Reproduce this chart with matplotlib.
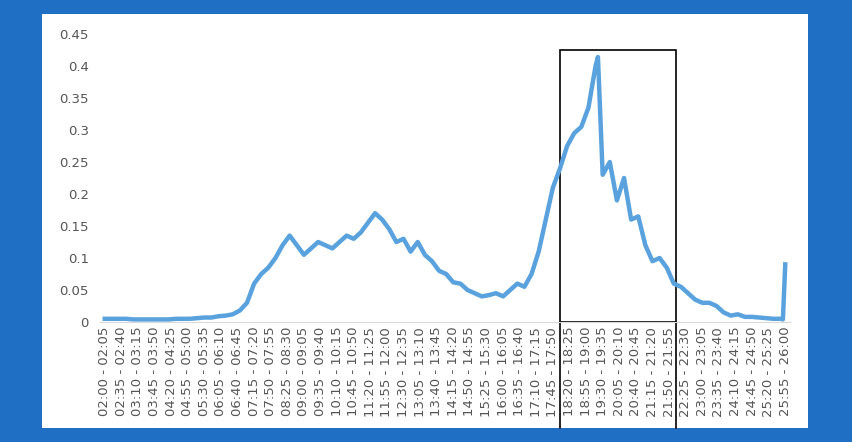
import matplotlib
matplotlib.use("Agg")
import matplotlib.pyplot as plt
from matplotlib.patches import Rectangle

# values sampled every 15 minutes (index step 3 of 5-minute slots), last slot 25:55
values = [0.005, 0.005, 0.005, 0.005, 0.004, 0.004, 0.004, 0.004,   # 02:00-03:45
          0.004, 0.004, 0.005, 0.005, 0.005, 0.006, 0.007, 0.007,   # 04:00-05:45
          0.009, 0.010, 0.012, 0.018, 0.030, 0.060, 0.075, 0.085,   # 06:00-07:45
          0.100, 0.120, 0.135, 0.120, 0.105, 0.115, 0.125, 0.120,   # 08:00-09:45
          0.115, 0.125, 0.135, 0.130, 0.140, 0.155, 0.170, 0.160,   # 10:00-11:45
          0.145, 0.125, 0.130, 0.110, 0.125, 0.105, 0.095, 0.080,   # 12:00-13:45
          0.075, 0.062, 0.060, 0.050, 0.045, 0.040, 0.042, 0.045,   # 14:00-15:45
          0.040, 0.050, 0.060, 0.055, 0.075, 0.110, 0.160, 0.210,   # 16:00-17:45
          0.240, 0.275, 0.295, 0.305, 0.335, 0.400, 0.230, 0.250,   # 18:00-19:45
          0.190, 0.225, 0.160, 0.165, 0.120, 0.095, 0.100, 0.085,   # 20:00-21:45
          0.060, 0.055, 0.045, 0.035, 0.030, 0.030, 0.025, 0.015,   # 22:00-23:45
          0.010, 0.012, 0.008, 0.008, 0.007, 0.006, 0.005, 0.005]   # 24:00-25:45
slots = list(range(0, 288, 3))
# peak near 19:20 and end spike
values.insert(70, 0.414); slots.insert(70, 208)
values.append(0.004); slots.append(286)
values.append(0.090); slots.append(287)

def slot_label(i):
    a = 120 + 5 * i
    b = a + 5
    return "%02d:%02d - %02d:%02d" % (a // 60, a % 60, b // 60, b % 60)

tick_slots = list(range(0, 288, 7))
tick_labels = [slot_label(i) for i in tick_slots]

fig = plt.figure(figsize=(8.53, 4.42), dpi=100, facecolor="#1f6fc4")
fig.patches.append(Rectangle((42 / 853, 14 / 442), 766 / 853, 414 / 442,
                             transform=fig.transFigure, facecolor="white",
                             edgecolor="none", zorder=0))
ax = fig.add_axes([100 / 853, 120 / 442, 690 / 853, 288 / 442])
ax.set_zorder(2)
ax.set_facecolor("white")
ax.plot(slots, values, color="#5aa2de", lw=3.2, solid_joinstyle="round")
ax.set_xlim(-2, 289)
ax.set_ylim(0, 0.45)
ax.set_yticks([0, 0.05, 0.1, 0.15, 0.2, 0.25, 0.3, 0.35, 0.4, 0.45])
ax.set_yticklabels(["0", "0.05", "0.1", "0.15", "0.2", "0.25", "0.3", "0.35", "0.4", "0.45"])
ax.set_xticks(tick_slots)
ax.set_xticklabels(tick_labels, rotation=90)
ax.tick_params(length=0, labelsize=9.5, colors="#555555")
ax.tick_params(axis="y", pad=8)
for s in ["top", "right", "left"]:
    ax.spines[s].set_visible(False)
ax.spines["bottom"].set_color("#d9d9d9")
# highlight box
ax.add_patch(Rectangle((192, 0), 49, 0.425, fill=False, edgecolor="black", lw=1.2,
                       clip_on=False))
ax.plot([192, 192], [0, -0.165], color="black", lw=1.2, clip_on=False)
ax.plot([241, 241], [0, -0.165], color="black", lw=1.2, clip_on=False)
fig.savefig("out.png", dpi=100, facecolor=fig.get_facecolor())
